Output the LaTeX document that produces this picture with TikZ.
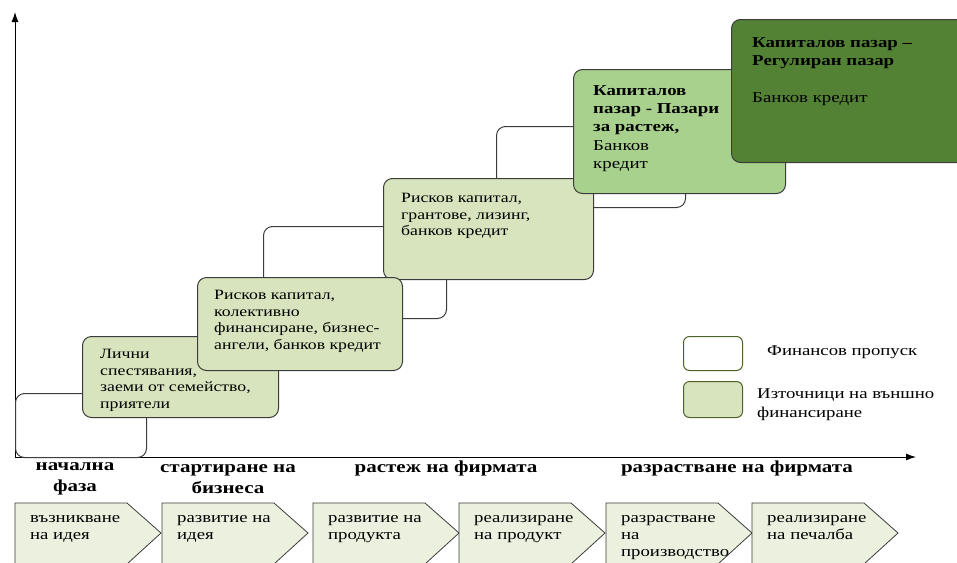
\documentclass[tikz,border=0pt]{standalone}
\usepackage{fontspec}
\setmainfont{Liberation Serif}[FakeStretch=1.25]
\usetikzlibrary{positioning,arrows.meta}
\definecolor{edgegray}{HTML}{3C3C3C}
\definecolor{srcgreen}{HTML}{D7E4BD}
\definecolor{midgreen}{HTML}{A9D18E}
\definecolor{darkgreen}{HTML}{548235}
\definecolor{phasegreen}{HTML}{EBF1DE}
\definecolor{legendline}{HTML}{4F6228}
\tikzset{
	gapbox/.style={draw=edgegray, line width=1pt, rounded corners=9pt, fill=white, anchor=north west, inner sep=0pt},
	srcbox/.style={gapbox, fill=srcgreen},
	boxtext/.style={anchor=north west, align=left, inner sep=0pt, font=\fontsize{14.2}{16.5}\selectfont},
	bigtext/.style={boxtext, font=\fontsize{15.1}{18.4}\selectfont},
	phasebox/.style={draw=edgegray, line width=0.8pt, fill=phasegreen},
	phasetext/.style={anchor=north west, align=left, inner sep=0pt, font=\fontsize{15}{17}\selectfont},
	stagelabel/.style={align=center, inner sep=0pt, font=\bfseries\fontsize{16.8}{21}\selectfont},
	axis/.style={-{Latex[length=10pt,width=7pt]}, line width=1pt}
}
\begin{document}
\begin{tikzpicture}[x=1pt,y=-1pt]
	\useasboundingbox (0,0) rectangle (957,562);
	
	%Axes
	\coordinate (origin) at (15,457);
	\coordinate (ytip) at (15,12);
	\coordinate (xtip) at (916,457);
	\draw[axis] (origin) -- (ytip);
	\draw[axis] (origin) -- (xtip);
	
	%Financing gaps
	\node[gapbox, minimum width=131pt, minimum height=64pt] (gap1) at (15,393) {};
	\node[gapbox, minimum width=183pt, minimum height=92pt] (gap2) at (263,226) {};
	\node[gapbox, minimum width=189pt, minimum height=81pt] (gap3) at (496,126) {};
	
	%Sources of financing
	\node[srcbox, minimum width=196pt, minimum height=81pt] (src1) at (82,336) {};
	\node[srcbox, minimum width=210pt, minimum height=101pt] (src3) at (383,178) {};
	\node[srcbox, minimum width=205pt, minimum height=93pt] (src2) at (197,277) {};
	\node[srcbox, fill=midgreen, minimum width=212pt, minimum height=124pt] (src4) at (573,69) {};
	\node[srcbox, fill=darkgreen, minimum width=240pt, minimum height=143pt] (src5) at (731,19) {};
	
	\node[boxtext] (src1txt) at ([xshift=18pt,yshift=-13pt]src1.north west) {Лични\\спестявания,\\заеми от семейство,\\приятели};
	\node[boxtext] (src2txt) at ([xshift=17pt,yshift=-13pt]src2.north west) {Рисков капитал,\\колективно\\финансиране, бизнес-\\ангели, банков кредит};
	\node[boxtext] (src3txt) at ([xshift=18pt,yshift=-15pt]src3.north west) {Рисков капитал,\\грантове, лизинг,\\банков кредит};
	\node[bigtext] (src4txt) at ([xshift=20pt,yshift=-16pt]src4.north west) {\textbf{Капиталов}\\\textbf{пазар - Пазари}\\\textbf{за растеж,}\\Банков\\кредит};
	\node[bigtext] (src5txt) at ([xshift=21pt,yshift=-18pt]src5.north west) {\textbf{Капиталов пазар –}\\\textbf{Регулиран пазар}\\[18.4pt]Банков кредит};
	
	%Legend
	\node[gapbox, draw=legendline, rounded corners=6pt, minimum width=59pt, minimum height=34pt] (leggap) at (683,336) {};
	\node[srcbox, draw=legendline, rounded corners=6pt, minimum width=59pt, minimum height=36pt] (legsrc) at (683,381) {};
	\node[boxtext, anchor=west, font=\fontsize{15}{19}\selectfont] (leggaptxt) at (767,352) {Финансов пропуск};
	\node[boxtext, font=\fontsize{15}{19}\selectfont] (legsrctxt) at (757,388) {Източници на външно\\финансиране};
	
	%Stages of the firm
	\node[stagelabel] (stage1) at (75,479) {начална\\фаза};
	\node[stagelabel] (stage2) at (228,479) {стартиране на\\бизнеса};
	\node[stagelabel] (stage3) at (446,468) {растеж на фирмата};
	\node[stagelabel] (stage4) at (737,468) {разрастване на фирмата};
	
	%Phases
	\foreach \i/\x/\txt in {1/15/{възникване\\на идея}, 2/162/{развитие на\\идея}, 3/313/{развитие на\\продукта}, 4/459/{реализиране\\на продукт}, 5/606/{разрастване\\на\\производство}, 6/752/{реализиране\\на печалба}}{
		\draw[phasebox] (\x,503) -- ++(112,0) -- ++(34,30) -- ++(-34,31) -- ++(-112,0) -- cycle;
		\node[phasetext] (phase\i) at (\x+15,515) {\txt};
	}
	
\end{tikzpicture}
\end{document}
